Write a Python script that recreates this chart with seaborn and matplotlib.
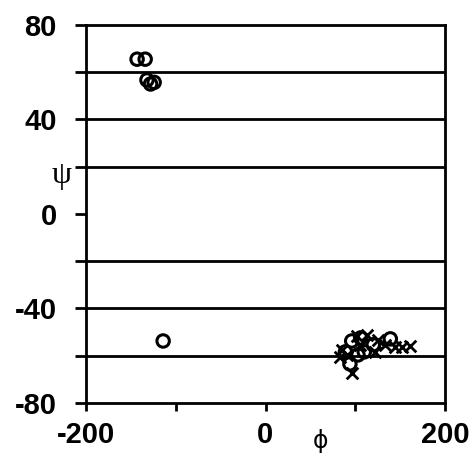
import numpy as np
import pandas as pd
import matplotlib
matplotlib.use('Agg')
import matplotlib.pyplot as plt
from matplotlib.font_manager import FontProperties
import seaborn as sns

# circles (o)
phi_o = [-143, -134, -132, -128, -124, -114,
         96, 106, 139, 110, 94, 103, 120, 89]
psi_o = [65.5, 65.5, 56.7, 55.0, 55.7, -53.8,
         -53.8, -52.5, -52.9, -58.4, -63.5, -59.7, -55.4, -58.4]

# crosses (x)
phi_x = [85, 91, 102, 113, 125, 133, 144, 152, 161, 96, 83, 122, 105]
psi_x = [-57.6, -59.7, -51.6, -51.2, -53.3, -55.4, -56.3, -56.3, -55.9,
         -67.3, -60.5, -58.4, -55.4]

grid_y = [60, 40, 20, -20, -40, -60]

def main():
    sns.set_style('white')
    plt.rcParams['font.family'] = ['Liberation Sans', 'DejaVu Sans']

    fig = plt.figure(figsize=(4.72, 4.62), dpi=100)
    ax = fig.add_axes([0.182, 0.128, 0.761, 0.818])

    for g in grid_y:
        ax.axhline(g, color='black', lw=2, zorder=1)

    df_o = pd.DataFrame({'phi': phi_o, 'psi': psi_o})
    df_x = pd.DataFrame({'phi': phi_x, 'psi': psi_x})
    sns.scatterplot(data=df_x, x='phi', y='psi', marker='x', s=70,
                    color='black', linewidth=2, ax=ax, zorder=3)
    sns.scatterplot(data=df_o, x='phi', y='psi', marker='o', s=80,
                    facecolor='none', edgecolor='black', linewidth=2.2,
                    ax=ax, zorder=4)

    ax.set_xlim(-200, 200)
    ax.set_ylim(-80, 80)
    ax.set_xticks([-200, -100, 0, 100, 200])
    ax.set_xticklabels(['-200', '', '0', '', '200'])
    ax.set_yticks(np.arange(-80, 81, 20))
    ax.set_yticklabels(['-80', '', '-40', '', '0', '', '40', '', '80'])
    ax.tick_params(axis='both', direction='out', width=2, color='black',
                   labelsize=21, labelcolor='black')
    ax.tick_params(axis='y', length=8, pad=13, left=True)
    ax.tick_params(axis='x', length=6, pad=7, bottom=True)
    for lab in ax.get_xticklabels() + ax.get_yticklabels():
        lab.set_fontweight('bold')
    ax.set_xlabel('')
    ax.set_ylabel('')

    for sp in ax.spines.values():
        sp.set_visible(True)
        sp.set_color('black')
        sp.set_linewidth(2)

    psi_font = FontProperties(family=['Liberation Serif', 'DejaVu Serif'], size=23)
    phi_font = FontProperties(family=['DejaVu Sans', 'Liberation Serif'], size=17)
    fig.text(0.131, 0.621, 'ψ', fontproperties=psi_font, color='black',
             ha='center', va='center')
    fig.text(0.678, 0.045, 'ϕ', fontproperties=phi_font, color='black',
             ha='center', va='center')

    fig.savefig('out.png', dpi=100)

if __name__ == "__main__":
    main()
